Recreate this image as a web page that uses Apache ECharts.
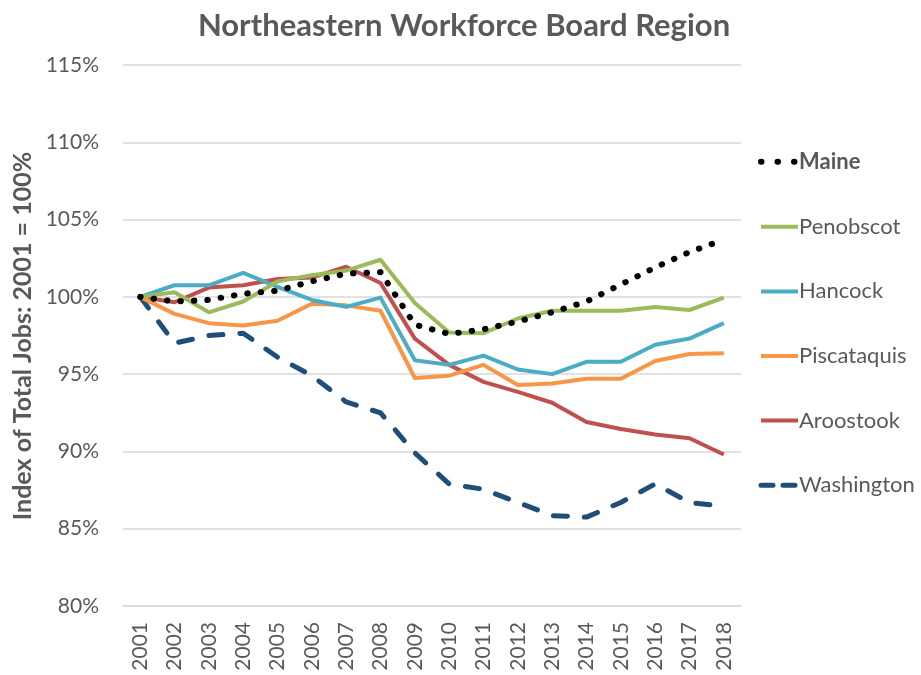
<html>
<head>
<script src="https://cdn.jsdelivr.net/npm/echarts@6/dist/echarts.min.js"></script>
<style>
    body { margin: 0; background: #fff; }
    #chart { width: 921px; height: 675px; }
</style>
</head>
<body>
<div id="chart"></div>
<script>
    // data (index, 2001 = 100)
    var years = ['2001', '2002', '2003', '2004', '2005', '2006', '2007', '2008', '2009',
        '2010', '2011', '2012', '2013', '2014', '2015', '2016', '2017', '2018'];
    var maine = [100, 99.7, 99.8, 100.2, 100.4, 101.0, 101.5, 101.6, 98.2, 97.6, 97.9, 98.4, 99.0, 99.7, 100.8, 101.9, 102.9, 103.7];
    var penobscot = [100, 100.3, 99.0, 99.7, 101.0, 101.4, 101.7, 102.4, 99.6, 97.7, 97.65, 98.6, 99.1, 99.1, 99.1, 99.35, 99.15, 99.95];
    var hancock = [100, 100.75, 100.75, 101.55, 100.65, 99.8, 99.35, 99.95, 95.9, 95.6, 96.2, 95.3, 95.0, 95.8, 95.8, 96.9, 97.3, 98.3];
    var piscataquis = [100, 98.9, 98.3, 98.15, 98.45, 99.55, 99.45, 99.1, 94.75, 94.9, 95.6, 94.3, 94.4, 94.7, 94.7, 95.85, 96.3, 96.35];
    var aroostook = [100, 99.65, 100.6, 100.75, 101.15, 101.25, 101.95, 100.9, 97.3, 95.6, 94.5, 93.85, 93.15, 91.9, 91.45, 91.1, 90.85, 89.8];
    var washington = [100, 97.0, 97.5, 97.65, 96.1, 94.9, 93.2, 92.5, 89.9, 87.9, 87.55, 86.7, 85.85, 85.75, 86.7, 87.9, 86.7, 86.45];
    var yTitle = 'Index of Total Jobs: 2001 = 100%';

    var font = 'Lato';
    var grey = '#595959';
    var dashed = [14, 17];

    function line(name, data, color, type, width, cap) {
        return {
            name: name,
            type: 'line',
            data: data,
            symbol: 'none',
            lineStyle: { color: color, width: width, type: type, cap: cap || 'butt', join: 'round' },
            itemStyle: { color: color }
        };
    }

    var chart = echarts.init(document.getElementById('chart'));
    chart.setOption({
        animation: false,
        title: {
            text: 'Northeastern Workforce Board Region',
            left: 464,
            textAlign: 'center',
            top: 2,
            padding: 0,
            textStyle: { fontFamily: font, fontSize: 31, fontWeight: 'bold', color: grey }
        },
        // y axis title, placed by hand so it sits where the reference has it
        graphic: [{
            type: 'text',
            x: 23,
            y: 336,
            rotation: Math.PI / 2,
            style: {
                text: yTitle,
                fontFamily: font,
                fontSize: 25,
                fontWeight: 'bold',
                fill: grey,
                align: 'center',
                verticalAlign: 'middle'
            }
        }],
        legend: {
            orient: 'vertical',
            left: 753,
            top: 140,
            itemGap: 31.5,
            itemWidth: 37,
            itemHeight: 14,
            itemStyle: { opacity: 0 },
            textStyle: { fontFamily: font, fontSize: 22, color: grey, padding: [0, 0, 0, -4] },
            data: [
                { name: 'Maine', textStyle: { fontWeight: 'bold' }, lineStyle: { width: 6, type: [0.5, 16], cap: 'round' } },
                { name: 'Penobscot', lineStyle: { width: 4 } },
                { name: 'Hancock', lineStyle: { width: 4 } },
                { name: 'Piscataquis', lineStyle: { width: 4 } },
                { name: 'Aroostook', lineStyle: { width: 4 } },
                { name: 'Washington', lineStyle: { width: 5, type: [12, 10], cap: 'round' } }
            ]
        },
        grid: { left: 123, right: 180, top: 65, bottom: 69, outerBoundsMode: 'none' },
        xAxis: {
            type: 'category',
            data: years,
            boundaryGap: true,
            axisLine: { lineStyle: { color: '#d9d9d9', width: 1.5 } },
            axisTick: { show: false },
            axisLabel: { interval: 0, rotate: 90, margin: 16, fontFamily: font, fontSize: 21, color: grey }
        },
        yAxis: {
            type: 'value',
            min: 80,
            max: 115,
            interval: 5,
            axisLine: { show: false },
            axisTick: { show: false },
            axisLabel: { margin: 24, fontFamily: font, fontSize: 21, color: grey, formatter: '{value}%' },
            splitLine: { lineStyle: { color: '#d9d9d9', width: 1.5 } }
        },
        series: [
            line('Washington', washington, '#1F4E79', dashed, 5, 'round'),
            line('Aroostook', aroostook, '#C0504D', 'solid', 4),
            line('Piscataquis', piscataquis, '#F79646', 'solid', 4),
            line('Hancock', hancock, '#4BACC6', 'solid', 4),
            line('Penobscot', penobscot, '#9BBB59', 'solid', 4),
            line('Maine', maine, '#000000', [0.5, 13], 6, 'round')
        ]
    });
</script>
</body>
</html>
